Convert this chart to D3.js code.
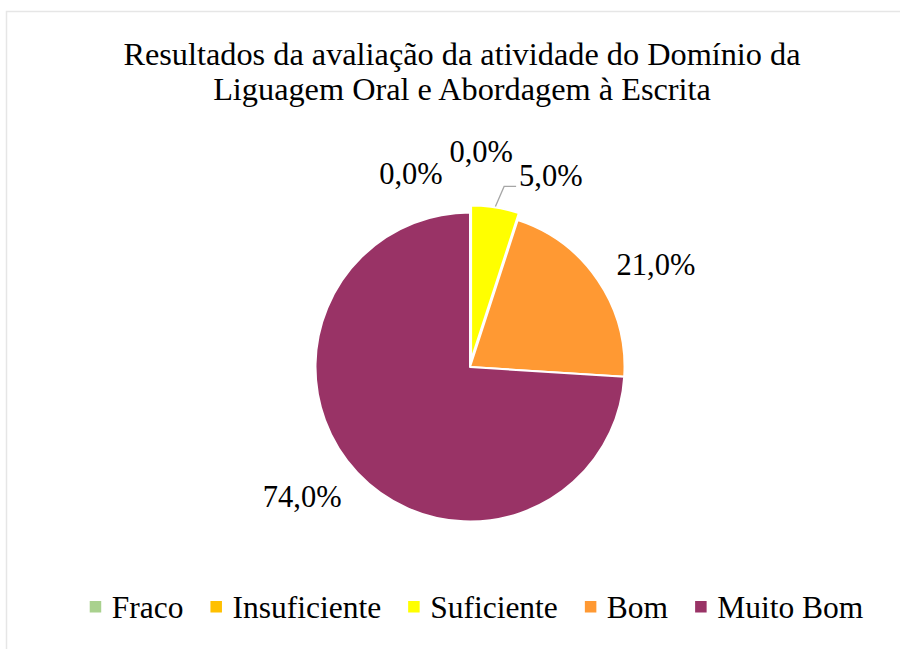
<!DOCTYPE html>
<html><head><meta charset="utf-8">
<script src="https://cdn.jsdelivr.net/npm/d3@7"></script>
<style>html,body{margin:0;padding:0;background:#fff}</style>
</head><body>
<svg id="chart" width="900" height="649"></svg>
<script>
const titleLines = ["Resultados da avaliação da atividade do Domínio da", "Liguagem Oral e Abordagem à Escrita"];
const categories = ["Fraco", "Insuficiente", "Suficiente", "Bom", "Muito Bom"];
const values = [0.0, 0.0, 5.0, 21.0, 74.0];
const colors = ["#A9D18E", "#FFC000", "#FFFF00", "#FF9933", "#993366"];
const explodedIndex = 2;

const W = 900, H = 649;
const FONT = "Liberation Serif";
const svg = d3.select("#chart");

// outer chart border (partly off-canvas)
svg.append("rect").attr("x", 6.5).attr("y", 11.5).attr("width", 1000).attr("height", 1000)
  .attr("fill", "#fff").attr("stroke", "#e6e6e6").attr("stroke-width", 1.5);

// title
const title = svg.append("text").attr("text-anchor", "middle")
  .style("font-family", FONT).attr("font-size", 32.3).attr("fill", "#000");
titleLines.forEach((t, i) => title.append("tspan").attr("x", 462).attr("y", 65 + i * 34.5).text(t));

// pie
const cx = 470, cy = 367, R = 154.5;
const pie = d3.pie().sort(null).value(d => d)(values);
const arc = d3.arc().innerRadius(0).outerRadius(R);
const g = svg.append("g").attr("transform", `translate(${cx},${cy})`);
const explode = 7;
const mid = d => (d.startAngle + d.endAngle) / 2;
g.selectAll("path").data(pie).join("path")
  .attr("d", d => d.value > 0 ? arc(d) : null)
  .attr("transform", (d, i) => i === explodedIndex ? `translate(${explode * Math.sin(mid(d))},${-explode * Math.cos(mid(d))})` : null)
  .attr("fill", (d, i) => colors[i])
  .attr("stroke", "#fff").attr("stroke-width", 2).attr("stroke-linejoin", "round");

// label placement: base angle = mid + 5.5deg, crowded clusters spread evenly
const deg = Math.PI / 180;
const labels = pie.map((d, i) => ({ i, d, mid: mid(d), a: mid(d) + 5.5 * deg, r: 212 }));
let clusters = [], cur = [labels[0]];
for (let k = 1; k < labels.length; k++) {
  if (labels[k].mid - cur[cur.length - 1].mid < 20 * deg) cur.push(labels[k]);
  else { clusters.push(cur); cur = [labels[k]]; }
}
clusters.push(cur);
clusters.forEach(c => {
  if (c.length < 2) return;
  const m = d3.mean(c, l => l.mid);
  const step = 20 * deg;
  c.forEach((l, j) => {
    l.a = m + (j - (c.length - 1) / 2) * step;
    l.r = j === 0 ? 202 : (j === c.length - 1 ? 207 : 215);
  });
});

const fmt = v => d3.format(".1f")(v).replace(".", ",") + "%";
const lg = svg.append("g").style("font-family", FONT).attr("font-size", 30.5).attr("fill", "#000");
labels.forEach(l => {
  const x = cx + l.r * Math.sin(l.a), y = cy - l.r * Math.cos(l.a);
  const t = lg.append("text").attr("x", x).attr("y", y + 10).attr("text-anchor", "middle").text(fmt(l.d.value));
  if (l.d.value > 0 && Math.abs(l.a - l.mid) > 10 * deg) {
    const w = t.node().getComputedTextLength();
    const ex = l.i === explodedIndex ? explode : 0;
    const sx = cx + (R + ex + 1) * Math.sin(l.mid), sy = cy - (R + ex + 1) * Math.cos(l.mid);
    const endX = x - w / 2 - 3, endY = y + 10;
    svg.append("polyline")
      .attr("points", [[sx, sy], [endX - 12, endY], [endX, endY]].map(p => p.join(",")).join(" "))
      .attr("fill", "none").attr("stroke", "#a6a6a6").attr("stroke-width", 1.3);
  }
});

// legend
const legend = svg.append("g").style("font-family", FONT).attr("font-size", 31.5);
let lx = 0;
const GAP = 27;
categories.forEach((c, i) => {
  const it = legend.append("g");
  it.append("rect").attr("x", lx).attr("y", -17).attr("width", 11.5).attr("height", 11.5).attr("fill", colors[i]);
  const tx = it.append("text").attr("x", lx + 22).attr("y", 0).attr("fill", "#000").text(c);
  lx += 22 + tx.node().getComputedTextLength() + GAP;
});
const totalW = lx - GAP;
legend.attr("transform", `translate(${476.5 - totalW / 2},618)`);
</script>
</body></html>
